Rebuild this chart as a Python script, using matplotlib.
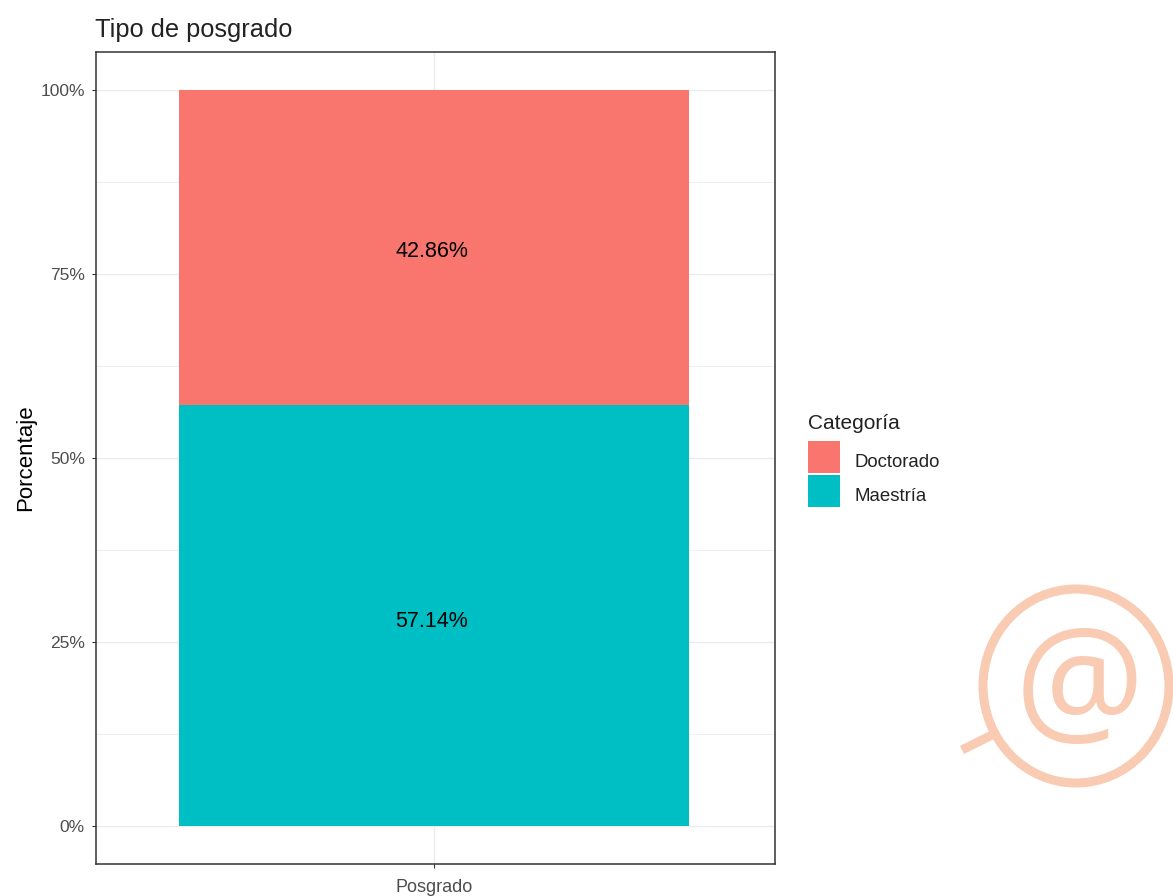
import matplotlib
matplotlib.use('Agg')
import matplotlib.pyplot as plt
from matplotlib.patches import Rectangle, Ellipse
from matplotlib.lines import Line2D

# Data
categories = ['Doctorado', 'Maestría']
values = [42.86, 57.14]
bar_labels = ['42.86%', '57.14%']
tick_vals = [0, 25, 50, 75, 100]
tick_labels = ['0%', '25%', '50%', '75%', '100%']
minor_vals = [12.5, 37.5, 62.5, 87.5]
colors = ['#F8766D', '#00BFC4']
mark_col = '#F8CBB2'

W, H = 1173, 896
plt.rcParams['font.family'] = ['Liberation Sans', 'DejaVu Sans']
fig = plt.figure(figsize=(W / 100, H / 100), dpi=100)

# panel, in pixels: x 96-775, y 52-864
ax = fig.add_axes([96 / W, 1 - 864 / H, (775 - 96) / W, (864 - 52) / H])
ax.set_xlim(0.003, 1.0015)
ax.set_ylim(-5.16, 105.1)

ax.set_axisbelow(True)
ax.set_yticks(tick_vals)
ax.set_yticklabels(tick_labels, fontsize=12.5, color='#4D4D4D')
ax.set_yticks(minor_vals, minor=True)
ax.set_xticks([0.5])
ax.set_xticklabels(['Posgrado'], fontsize=13, color='#4D4D4D')
ax.tick_params(axis='y', which='major', length=3, color='#333333', pad=5)
ax.tick_params(axis='x', which='major', length=3, color='#333333', pad=8)
ax.tick_params(axis='y', which='minor', length=0)
ax.grid(True, which='major', color='#EBEBEB', lw=1)
ax.grid(True, which='minor', axis='y', color='#EBEBEB', lw=0.6)

# stacked bar, Maestría at the bottom
ax.bar(0.5, values[1], width=0.75, color=colors[1], zorder=2)
ax.bar(0.5, values[0], width=0.75, bottom=values[1], color=colors[0], zorder=2)
ax.annotate(bar_labels[1], (0.5, values[1] / 2), xytext=(-1.5, -4.5), textcoords='offset points',
            ha='center', va='center', fontsize=15.5, color='black', zorder=3)
ax.annotate(bar_labels[0], (0.5, values[1] + values[0] / 2), xytext=(-1.5, -3), textcoords='offset points',
            ha='center', va='center', fontsize=15.5, color='black', zorder=3)

for s in ax.spines.values():
    s.set_color('#333333')
    s.set_linewidth(1.1)

ax.set_ylabel('Porcentaje', fontsize=16)
ax.yaxis.set_label_coords(-0.088, 0.5)
fig.text(95 / W, 1 - 30 / H, 'Tipo de posgrado', fontsize=18.3, color='#222222', va='center', ha='left')

# legend
fig.text(808 / W, 1 - 423 / H, 'Categoría', fontsize=15, color='#222222', va='center', ha='left')
for name, col, top in zip(categories, colors, [441, 475]):
    fig.add_artist(Rectangle((808 / W, 1 - (top + 32) / H), 32 / W, 32 / H, transform=fig.transFigure, color=col, lw=0))
    fig.text(855 / W, 1 - (top + 21) / H, name, fontsize=13.4, color='#222222', va='center', ha='left')

# watermark in the lower right corner
fig.add_artist(Ellipse((1076 / W, 1 - 686 / H), 186 / W, 194 / H, transform=fig.transFigure,
                       facecolor='none', edgecolor=mark_col, lw=6.5))
fig.add_artist(Line2D([962 / W, 992 / W], [1 - 750 / H, 1 - 735 / H], transform=fig.transFigure,
                      color=mark_col, lw=6.5, solid_capstyle='butt'))
fig.text(1079 / W, 1 - 694 / H, '@', fontsize=104, color=mark_col, family='Open Sans',
         ha='center', va='center')

fig.savefig('out.png', dpi=100)
